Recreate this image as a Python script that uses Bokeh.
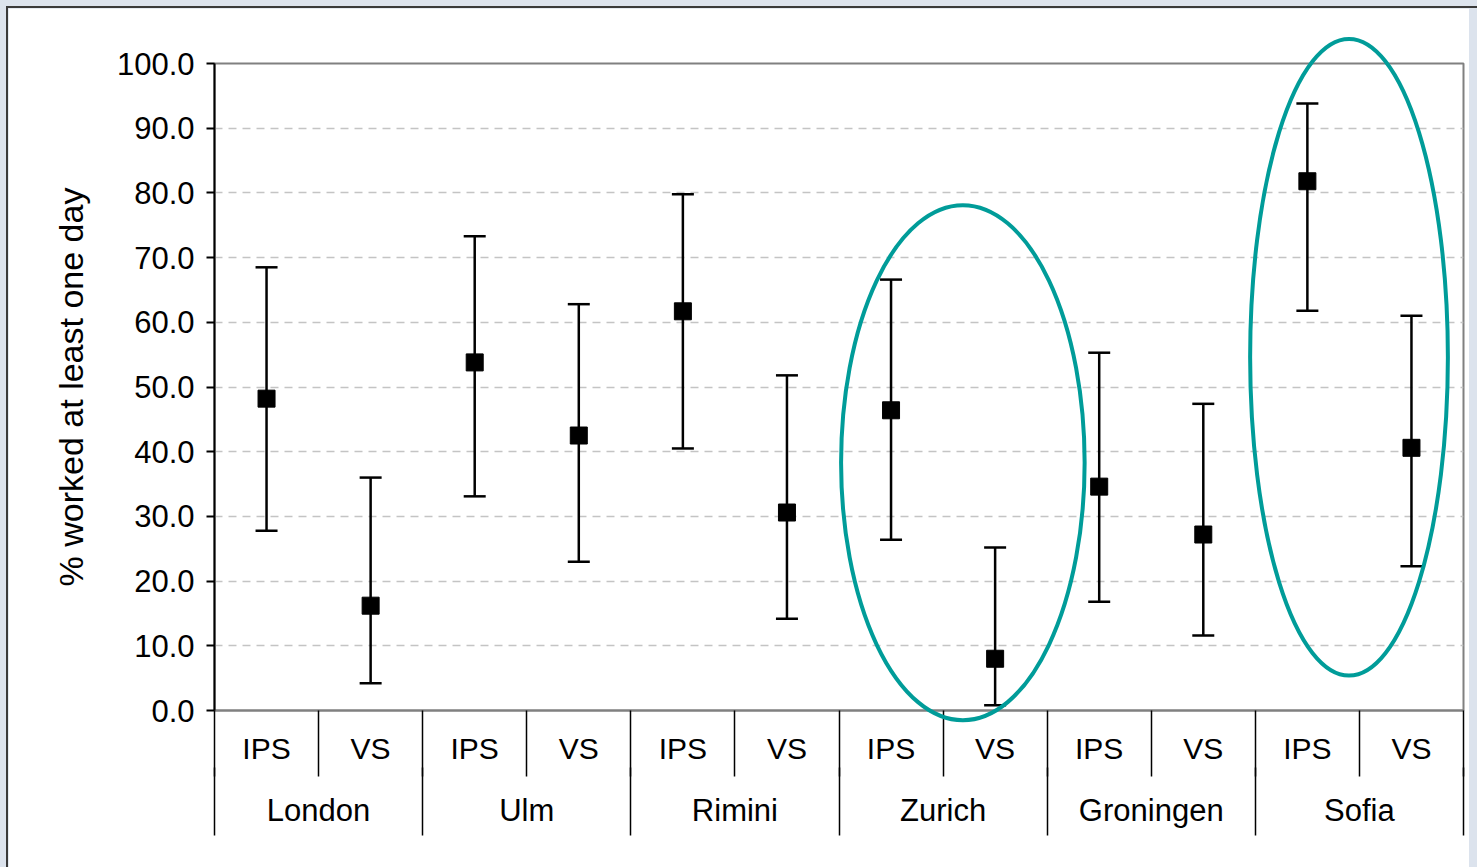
from bokeh.plotting import figure
from bokeh.models import (ColumnDataSource, Range1d, LinearAxis, FixedTicker,
                          NumeralTickFormatter, Whisker, TeeHead, GlobalInlineStyleSheet)
from bokeh.embed import file_html
from bokeh.resources import INLINE

# ---------------- data ----------------
cities = ["London", "Ulm", "Rimini", "Zurich", "Groningen", "Sofia"]
groups = ["IPS", "VS"]
mean_ips = [48.2, 53.8, 61.7, 46.4, 34.6, 81.8]
upper_ips = [68.5, 73.3, 79.8, 66.6, 55.3, 93.8]
lower_ips = [27.8, 33.1, 40.5, 26.4, 16.8, 61.8]
mean_vs = [16.2, 42.5, 30.6, 8.0, 27.2, 40.6]
upper_vs = [36.0, 62.8, 51.8, 25.2, 47.4, 61.0]
lower_vs = [4.2, 23.0, 14.2, 0.8, 11.6, 22.3]
y_ticks = [0, 10, 20, 30, 40, 50, 60, 70, 80, 90, 100]
y_title = "% worked at least one day"
highlight = ["Zurich", "Sofia"]

# ---------------- layout / style ----------------
FONT = "Liberation Sans"
TEAL = "#009c99"
n_cat = len(cities) * len(groups)

# highlight ellipses: (offset of centre from group centre, centre y, width, height) in data units
ellipse_geom = {"Zurich": (0.19, 38.3, 2.34, 79.6), "Sofia": (-0.10, 54.6, 1.90, 98.5)}

xs, means, los, his = [], [], [], []
for i, c in enumerate(cities):
    for j, g in enumerate(groups):
        xs.append(i * len(groups) + j + 0.5)
        if g == "IPS":
            means.append(mean_ips[i]); los.append(lower_ips[i]); his.append(upper_ips[i])
        else:
            means.append(mean_vs[i]); los.append(lower_vs[i]); his.append(upper_vs[i])
src = ColumnDataSource(dict(x=xs, mean=means, lo=los, hi=his))

p = figure(width=1469, height=859, output_backend="svg", toolbar_location=None,
           x_range=Range1d(0, n_cat), y_range=Range1d(0, 100),
           x_axis_location=None,
           min_border_left=206, min_border_right=14, min_border_top=55, min_border_bottom=157)
p.background_fill_color = "white"
p.border_fill_color = "white"
p.outline_line_color = "#808080"
p.outline_line_width = 2
page_css = (
    "html,body{background:"
    "linear-gradient(#3a3a3a,#3a3a3a) 6px 6px / 2px 100% no-repeat,"
    "linear-gradient(#3a3a3a,#3a3a3a) 6px 6px / 100% 2px no-repeat,"
    "#dce3ed !important;} body{margin:8px !important;}"
)
p.stylesheets = [GlobalInlineStyleSheet(css=page_css)]

# y axis
ya = p.yaxis[0]
ya.ticker = FixedTicker(ticks=y_ticks)
ya.formatter = NumeralTickFormatter(format="0.0")
ya.major_label_text_font = FONT
ya.major_label_text_font_size = "31px"
ya.major_label_text_color = "black"
ya.major_tick_out = 8
ya.major_tick_in = 0
ya.major_tick_line_width = 2
ya.major_tick_line_color = "black"
ya.minor_tick_out = 0
ya.minor_tick_in = 0
ya.major_label_standoff = 12
ya.axis_line_color = "black"
ya.axis_line_width = 2
ya.axis_label = y_title
ya.axis_label_text_font = FONT
ya.axis_label_text_font_size = "34px"
ya.axis_label_text_font_style = "normal"
ya.axis_label_text_color = "black"
ya.axis_label_standoff = 24

# grid
p.ygrid.ticker = FixedTicker(ticks=y_ticks[1:-1])
p.ygrid.grid_line_color = "#c4c4c4"
p.ygrid.grid_line_dash = "8 6"
p.ygrid.grid_line_width = 1.5
p.xgrid.visible = False

# category axes
sub_over = {}
for i, c in enumerate(cities):
    for j, g in enumerate(groups):
        sub_over[i * len(groups) + j + 0.5] = g
grp_over = {i * len(groups) + len(groups) / 2: c for i, c in enumerate(cities)}

ax1 = LinearAxis(ticker=FixedTicker(ticks=sorted(sub_over.keys()),
                                    minor_ticks=list(range(0, n_cat + 1))),
                 major_label_overrides=sub_over)
ax2 = LinearAxis(ticker=FixedTicker(ticks=sorted(grp_over.keys()),
                                    minor_ticks=list(range(0, n_cat + 1, len(groups)))),
                 major_label_overrides=grp_over)
for ax, so, mo, fs in ((ax1, -42, 66, "30px"), (ax2, -43, 68, "31px")):
    ax.major_tick_out = 0
    ax.major_tick_in = 0
    ax.minor_tick_in = 0
    ax.minor_tick_out = mo
    ax.minor_tick_line_color = "black"
    ax.minor_tick_line_width = 1.5
    ax.major_label_standoff = so
    ax.major_label_text_font = FONT
    ax.major_label_text_font_size = fs
    ax.major_label_text_color = "black"
ax1.major_label_standoff = -45
ax1.axis_line_color = "#808080"
ax1.axis_line_width = 2
ax2.axis_line_color = None
p.add_layout(ax1, "below")
p.add_layout(ax2, "below")

# error bars
wh = Whisker(base="x", lower="lo", upper="hi", source=src, dimension="height",
             line_color="black", line_width=2.5,
             upper_head=TeeHead(size=22, line_width=2.5, line_color="black"),
             lower_head=TeeHead(size=22, line_width=2.5, line_color="black"))
p.add_layout(wh)
p.scatter(x="x", y="mean", source=src, marker="square", size=17,
          fill_color="black", line_color="black")

# highlight ellipses
ex, ey, ew, eh = [], [], [], []
for c in highlight:
    k = cities.index(c)
    dx, cy, w, h = ellipse_geom[c]
    ex.append(k * len(groups) + len(groups) / 2 + dx)
    ey.append(cy); ew.append(w); eh.append(h)
p.ellipse(x=ex, y=ey, width=ew, height=eh, fill_color=None,
          line_color=TEAL, line_width=4, level="overlay")

open("out.html", "w").write(file_html(p, INLINE))
